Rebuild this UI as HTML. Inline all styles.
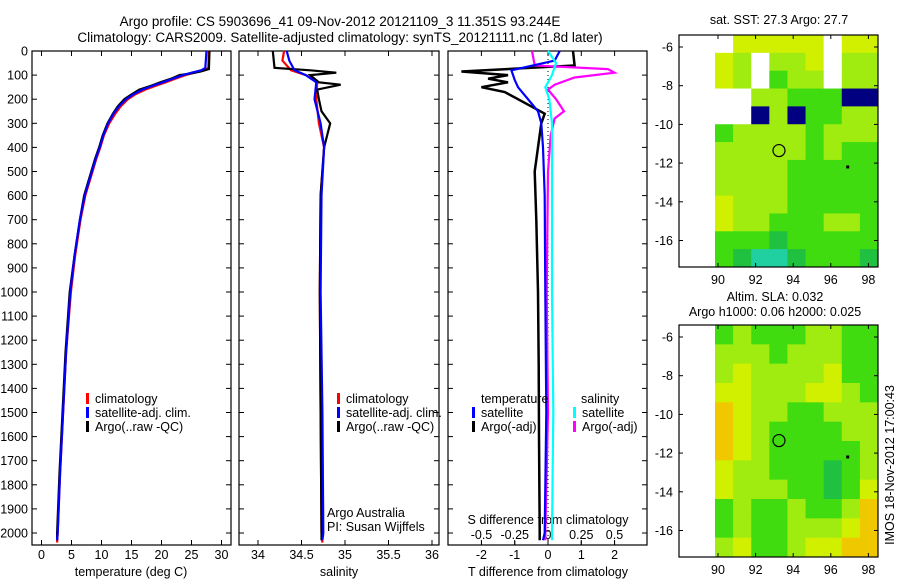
<!DOCTYPE html>
<html><head><meta charset="utf-8"><style>
body{margin:0;background:#fff}
svg{display:block;font-family:"Liberation Sans",sans-serif;font-size:12.5px}
</style></head><body>
<svg id="s" width="900" height="580" viewBox="0 0 900 580">
<text x="340" y="26" text-anchor="middle" font-size="13.5">Argo profile: CS 5903696_41 09-Nov-2012 20121109_3 11.351S 93.244E</text>
<text x="340" y="42" text-anchor="middle" font-size="13.5">Climatology: CARS2009. Satellite-adjusted climatology: synTS_20121111.nc (1.8d later)</text>
</svg>
<script>
const depthTicks=[0,100,200,300,400,500,600,700,800,900,1000,1100,1200,1300,1400,1500,1600,1700,1800,1900,2000];
const tempTicks=[0,5,10,15,20,25,30];
const salTicks=[34,34.5,35,35.5,36];
const tdTicks=[-2,-1,0,1,2];
const sdTicks=[-0.5,-0.25,0,0.25,0.5];
const sdTickLabels=["-0.5","-0.25","0","0.25","0.5"];
// temperature profiles [depth,value]
const tempClim=[[0,27.9],[70,27.8],[80,27],[90,25.5],[100,24],[115,22.3],[130,20.7],[145,19],[160,17.3],[180,15.6],[200,14.4],[230,13.2],[260,12.3],[300,11.3],[350,10.4],[400,9.8],[450,9.1],[500,8.5],[600,7.3],[700,6.5],[850,5.6],[1000,4.9],[1250,4.1],[1500,3.6],[1750,3.1],[2000,2.7],[2040,2.6]];
const tempSat=[[0,27.5],[70,27.3],[80,26.6],[90,25],[100,23.6],[115,21.9],[130,20.2],[145,18.5],[160,16.8],[180,15.3],[200,14.1],[230,12.9],[260,12],[300,11.1],[350,10.3],[400,9.7],[450,9],[500,8.4],[600,7.2],[700,6.4],[850,5.5],[1000,4.8],[1250,4.1],[1500,3.6],[1750,3.1],[2000,2.7],[2030,2.6]];
const tempArgo=[[0,28],[75,27.9],[85,26.5],[95,24.5],[100,23],[115,21.6],[130,19.8],[145,18.2],[160,16.3],[180,15],[200,13.8],[230,12.7],[260,11.9],[300,11],[350,10.2],[400,9.6],[450,8.9],[500,8.3],[600,7.1],[700,6.4],[850,5.5],[1000,4.7],[1250,4],[1500,3.5],[1750,3],[2000,2.6],[2030,2.6]];
const salClim=[[0,34.3],[40,34.28],[80,34.38],[100,34.55],[130,34.68],[200,34.67],[300,34.7],[400,34.76],[600,34.72],[1000,34.71],[1500,34.72],[2000,34.73],[2040,34.74]];
const salSat=[[0,34.33],[40,34.36],[80,34.42],[100,34.55],[130,34.67],[200,34.65],[300,34.72],[400,34.76],[600,34.73],[1000,34.72],[1500,34.74],[2000,34.75],[2030,34.74]];
const salArgo=[[0,34.17],[70,34.19],[80,34.6],[90,34.9],[100,34.6],[130,34.7],[140,34.95],[160,34.68],[200,34.7],[250,34.73],[300,34.83],[400,34.76],[600,34.72],[1000,34.71],[1500,34.72],[2000,34.73],[2030,34.73]];
const tdSat=[[0,0.35],[40,0.2],[80,-1.1],[120,-1.0],[150,-0.9],[200,-0.6],[250,-0.3],[300,-0.2],[400,-0.15],[600,-0.1],[1000,-0.08],[1500,-0.05],[2000,-0.1],[2030,-0.15]];
const tdArgo=[[0,0.75],[60,0.8],[85,-2.6],[100,-1.2],[115,-1.8],[130,-1.2],[150,-2.0],[170,-1.3],[200,-0.9],[260,-0.1],[300,-0.2],[500,-0.4],[700,-0.35],[1000,-0.3],[1300,-0.28],[1600,-0.27],[2000,-0.25],[2030,-0.25]];
const sdSat=[[0,0.0],[50,0.06],[100,0.03],[150,-0.02],[200,0.01],[300,0.03],[500,0.03],[1000,0.03],[1500,0.04],[2000,0.03],[2030,0.03]];
const sdArgo=[[0,-0.12],[60,-0.1],[75,0.45],[90,0.5],[110,0.2],[140,0.05],[160,0.0],[200,0.06],[250,0.12],[280,0.05],[350,0.02],[500,0.0],[1000,-0.01],[1500,0.0],[2000,-0.02],[2030,-0.02]];
const map1=["WYYYYYWYY","YLWLLYWLL","YLWGLLWLL","WWLLGGGNN","WWNLNGGLL","GLLLLGLLL","LLLLLGLGG","LLLLGGGGG","LLLLGGGGG","YLLLGGGGG","YLLGGGLLG","GGGDGGGGG","GDTTDGGGD"];
const map2=["GLGGGLLGG","LLLGLLLGG","LYLLLLYGG","YYLLLYYLG","OYLLGGLLL","OYLGGGGLL","OYLGGGGGL","YLLGGGDGL","YLLLGGDGY","GLGGLGGLO","GLGGLLLYO","LYGGLYYOO"];
const palette={W:"#ffffff",Y:"#d0f000",L:"#a0ec10",G:"#40dc10",D:"#20c040",T:"#20d0a0",N:"#000080",O:"#f0c800"};

const NS="http://www.w3.org/2000/svg",svg=document.getElementById('s');
function mk(t,a,p){const e=document.createElementNS(NS,t);for(const k in a)e.setAttribute(k,a[k]);(p||svg).appendChild(e);return e;}
const Y0=51,YS=0.241; const yD=d=>Y0+d*YS;
const PB=545;
const panels=[{l:32,r:231,x:v=>41.5+v*6},{l:239,r:439,x:v=>258+(v-34)*87},{l:448,r:647,x:v=>548+v*33.3}];
const xS=v=>548+v*133;
function frame(p,name){const r=mk('rect',{x:p.l,y:Y0,width:p.r-p.l,height:PB-Y0,fill:'none',stroke:'#000','stroke-width':1.2});

depthTicks.forEach(d=>{mk('line',{x1:p.l,x2:p.l+5,y1:yD(d),y2:yD(d),stroke:'#000'});mk('line',{x1:p.r,x2:p.r-5,y1:yD(d),y2:yD(d),stroke:'#000'});});}
panels.forEach((p,i)=>frame(p,['temperature-panel','salinity-panel','difference-panel'][i]));
depthTicks.forEach(d=>{const t=mk('text',{x:28,y:yD(d)+4.5,'text-anchor':'end'});t.textContent=d;
});
function xt(p,ticks,labels,yl,fn){ticks.forEach((v,i)=>{const x=fn(v);mk('line',{x1:x,x2:x,y1:PB,y2:PB-5,stroke:'#000'});mk('line',{x1:x,x2:x,y1:Y0,y2:Y0+5,stroke:'#000'});
const t=mk('text',{x:x,y:yl,'text-anchor':'middle'});t.textContent=labels?labels[i]:v;
});}
xt(panels[0],tempTicks,null,559,panels[0].x);
xt(panels[1],salTicks,null,559,panels[1].x);
xt(panels[2],tdTicks,null,559,panels[2].x);
sdTicks.forEach((v,i)=>{const x=xS(v);mk('line',{x1:x,x2:x,y1:PB,y2:PB-4,stroke:'#000'});const t=mk('text',{x:x,y:539,'text-anchor':'middle'});t.textContent=sdTickLabels[i];
});
function lbl(x,y,s,name,anchor){const t=mk('text',{x:x,y:y,'text-anchor':anchor||'start'});t.textContent=s;return t;}
lbl(131,576,'temperature (deg C)','x-axis-title-temperature','middle');
lbl(339,576,'salinity','x-axis-title-salinity','middle');
lbl(548,576,'T difference from climatology','x-axis-title-t-diff','middle');
lbl(548,524,'S difference from climatology','s-diff-axis-title','middle');
lbl(327,517,'Argo Australia','argo-australia-label');
lbl(327,531,'PI: Susan Wijffels','pi-label');
mk('line',{x1:548,x2:548,y1:Y0,y2:PB,stroke:'#000','stroke-dasharray':'1,3'});
function line(data,fx,color,name,w){const pts=data.map(d=>fx(d[1]).toFixed(1)+','+yD(d[0]).toFixed(1)).join(' ');
const e=mk('polyline',{points:pts,fill:'none',stroke:color,'stroke-width':w||2.2});}
line(tempClim,panels[0].x,'#f00','temp-climatology-line');
line(tempArgo,panels[0].x,'#000','temp-argo-line');
line(tempSat,panels[0].x,'#0000ff','temp-satellite-line');
line(salClim,panels[1].x,'#f00','sal-climatology-line');
line(salArgo,panels[1].x,'#000','sal-argo-line');
line(salSat,panels[1].x,'#0000ff','sal-satellite-line');
line(tdArgo,panels[2].x,'#000','tdiff-argo-line',2.5);
line(sdArgo,xS,'#ff00ff','sdiff-argo-line');
line(tdSat,panels[2].x,'#0000ff','tdiff-satellite-line');
line(sdSat,xS,'#00ffff','sdiff-satellite-line');
function leg(x,y,color,s,name){mk('rect',{x:x,y:y-10,width:3,height:11,fill:color});lbl(x+9,y,s,name);}
leg(86,403,'#f00','climatology','legend-climatology');
leg(86,417,'#00f','satellite-adj. clim.','legend-satellite-adj');
leg(86,431,'#000','Argo(..raw -QC)','legend-argo');
leg(337,403,'#f00','climatology','legend2-climatology');
leg(337,417,'#00f','satellite-adj. clim.','legend2-satellite-adj');
leg(337,431,'#000','Argo(..raw -QC)','legend2-argo');
lbl(481,403,'temperature','legend-temperature-header');
lbl(581,403,'salinity','legend-salinity-header');
leg(472,417,'#00f','satellite','legend-t-satellite');
leg(472,431,'#000','Argo(-adj)','legend-t-argo');
leg(573,417,'#0ff','satellite','legend-s-satellite');
leg(573,431,'#f0f','Argo(-adj)','legend-s-argo');
const ML=679,MR=878,DL=715,lonX=v=>718+(v-90)*18.8;
function map(top,bot,grid,name,lat0y){const g=mk('g',{});
const rows=grid.length,cw=(MR-DL)/9,ch=(bot-top)/rows;
grid.forEach((row,r)=>{[...row].forEach((c,k)=>{mk('rect',{x:DL+k*cw,y:top+r*ch,width:cw+0.5,height:ch+0.5,fill:palette[c]},g);});});
mk('rect',{x:ML,y:top,width:MR-ML,height:bot-top,fill:'none',stroke:'#000','stroke-width':1.2});
[90,92,94,96,98].forEach(v=>{const x=lonX(v);mk('line',{x1:x,x2:x,y1:bot,y2:bot-4,stroke:'#000'});mk('line',{x1:x,x2:x,y1:top,y2:top+4,stroke:'#000'});
lbl(x,bot+17,String(v),'lon-tick-label','middle');});
[-6,-8,-10,-12,-14,-16].forEach(v=>{const y=lat0y+(-6-v)*19.35;mk('line',{x1:ML,x2:ML+4,y1:y,y2:y,stroke:'#000'});mk('line',{x1:MR,x2:MR-4,y1:y,y2:y,stroke:'#000'});
lbl(673,y+4.5,String(v),'lat-tick-label','end');});
const cy=lat0y+(11.351-6)*19.35;mk('circle',{cx:lonX(93.244),cy:cy,r:6,fill:'none',stroke:'#000','stroke-width':1.2});
mk('rect',{x:lonX(96.9)-1.5,y:lat0y+6.2*19.35-1.5,width:3,height:3,fill:'#000'});}
map(35,267,map1,'sst-map',47);
map(325,557,map2,'sla-map',337);
lbl(779,24,'sat. SST: 27.3 Argo: 27.7','sst-map-title','middle');
lbl(775,301,'Altim. SLA: 0.032','sla-map-title','middle');
lbl(775,316,'Argo h1000: 0.06 h2000: 0.025','sla-map-subtitle','middle');
const ts=lbl(0,0,'IMOS 18-Nov-2012 17:00:43','imos-timestamp','middle');ts.setAttribute('transform','translate(894,465) rotate(-90)');
</script>
</body></html>
